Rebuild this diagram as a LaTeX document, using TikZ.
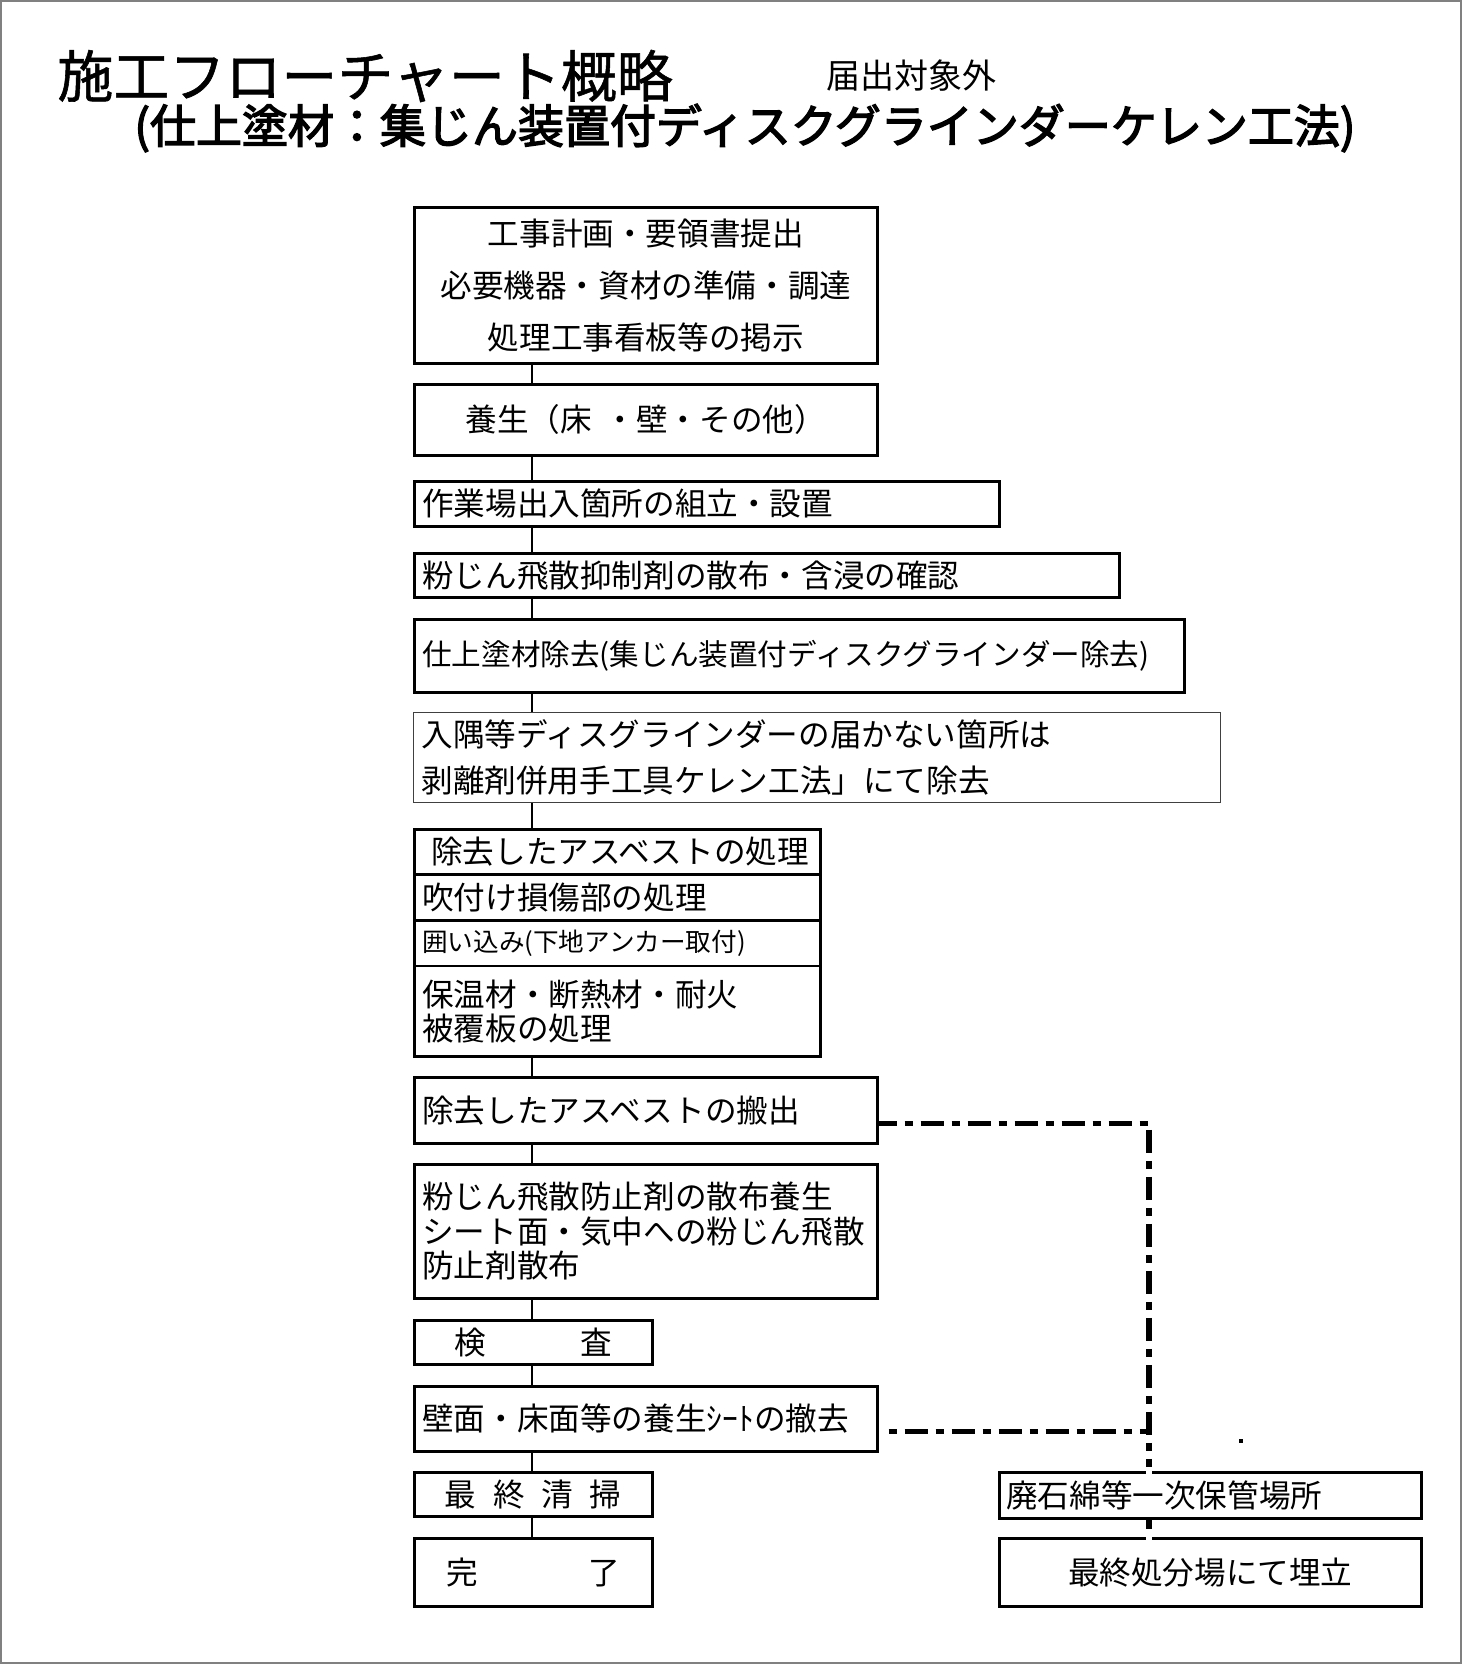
\documentclass[tikz,border=0pt]{standalone}
\usepackage{fontspec}
\setmainfont{Noto Sans CJK JP}
\newfontfamily\titlefont{Noto Sans CJK JP}[FakeBold=1]
\newfontfamily\subfont{Noto Sans CJK JP}[FakeBold=3]
\usetikzlibrary{calc}
\newcommand\fsmain{\fontsize{15.8pt}{19pt}\selectfont}
\begin{document}
\begin{tikzpicture}[x=0.5pt,y=-0.5pt,
  bx/.style={draw, line width=1.3pt, anchor=north west, inner xsep=4pt, inner ysep=0pt, align=left, font=\fsmain},
  conn/.style={line width=0.85pt},
  dd/.style={line width=2.8pt, dash pattern=on 11.5pt off 4pt on 4pt off 4pt}]
\useasboundingbox (0,0) rectangle (1462,1664);
\draw[gray, line width=1pt] (1,1) rectangle (1461,1663);
% titles
\node[anchor=west, inner sep=0pt, font={\titlefont\fontsize{28pt}{30pt}\selectfont}] (title) at (57,76) {施工フローチャート概略};
\node[anchor=west, inner sep=0pt, font={\fontsize{17pt}{19pt}\selectfont}] (notice) at (826,76) {届出対象外};
\node[anchor=west, inner sep=0pt, font={\subfont\fontsize{23pt}{25pt}\selectfont}] (sub) at (134,128) {(仕上塗材：集じん装置付ディスクグラインダーケレン工法)};
% main flow
\node[bx, text width=223.5pt, minimum height=78pt, align=center, font={\fontsize{15.8pt}{26pt}\selectfont}] (b1) at (413,206) {工事計画・要領書提出\\必要機器・資材の準備・調達\\処理工事看板等の掲示};
\node[bx, text width=223.5pt, minimum height=35.5pt, align=center] (b2) at (413,383) {養生（床\hspace{0.4em}・壁・その他）};
\node[bx, text width=284.5pt, minimum height=22.5pt] (b3) at (413,480) {作業場出入箇所の組立・設置};
\node[bx, text width=344.5pt, minimum height=22pt] (b4) at (413,552) {粉じん飛散抑制剤の散布・含浸の確認};
\node[bx, text width=377pt, minimum height=36.5pt, font={\fontsize{14.8pt}{18pt}\selectfont}] (b5) at (413,618) {仕上塗材除去(集じん装置付ディスクグラインダー除去)};
\node[bx, text width=395.5pt, minimum height=45pt, line width=0.5pt, draw=black!75, font={\fontsize{15.8pt}{22.8pt}\selectfont}] (b6) at (413,712) {入隅等ディスグラインダーの届かない箇所は\\剥離剤併用手工具ケレン工法」にて除去};
\node[bx, text width=195pt, minimum height=22.5pt] (r1) at (413,828) {\hspace*{4.5pt}除去したアスベストの処理};
\node[bx, text width=195pt, minimum height=23pt] (r2) at (413,873) {吹付け損傷部の処理};
\node[bx, text width=195pt, minimum height=22.75pt, font={\fontsize{12.8pt}{15pt}\selectfont}] (r3) at (413,919) {囲い込み(下地アンカー取付)};
\node[bx, text width=195pt, minimum height=45.25pt, font={\fontsize{15.8pt}{17pt}\selectfont}] (r4) at (413,964.5) {保温材・断熱材・耐火\\被覆板の処理};
\node[bx, text width=223.5pt, minimum height=33pt] (b8) at (413,1076) {除去したアスベストの搬出};
\node[bx, text width=223.5pt, minimum height=67pt, font={\fontsize{15.8pt}{17.25pt}\selectfont}] (b9) at (413,1163) {粉じん飛散防止剤の散布養生\\シート面・気中への粉じん飛散\\防止剤散布};
\node[bx, text width=111pt, minimum height=22pt, align=center] (b10) at (413,1319) {検　　　査};
\node[bx, text width=223.5pt, minimum height=32.5pt] (b11) at (413,1385) {壁面・床面等の養生ｼｰﾄの撤去};
\node[bx, text width=111pt, minimum height=22pt, align=center] (b12) at (413,1471) {最\hspace{0.53em}終\hspace{0.53em}清\hspace{0.53em}掃};
\node[bx, text width=111pt, minimum height=34pt, align=center] (b13) at (413,1537) {完\hspace{3.5em}了};
% connectors
\coordinate (sp) at (532,0);
\foreach \a/\b in {b1/b2,b2/b3,b3/b4,b4/b5,b5/b6,b6/r1,r4/b8,b8/b9,b9/b10,b10/b11,b11/b12,b12/b13}
  \draw[conn] (\a.south -| sp) -- (\b.north -| sp);
% dash-dot route to storage
\coordinate (vx) at (1149,0);
\coordinate (s1) at ([yshift=-6.5pt]b8.east);
\coordinate (s2) at ([xshift=5pt,yshift=-6.25pt]b11.east);
\draw[dd, dash phase=2.5pt] (s1) -- (s1 -| vx) -- (1149,1537);
\draw[dd, dash phase=15.5pt] (s2) -- (s2 -| vx);
% storage boxes
\node[bx, fill=white, text width=204pt, inner xsep=3.5pt, minimum height=23pt] (b14) at (998,1471) {廃石綿等一次保管場所};
\node[bx, fill=white, text width=204pt, inner xsep=3.5pt, minimum height=34pt, align=center] (b15) at (998,1537) {最終処分場にて埋立};
\fill[white] (b14.north -| vx) ++(-3,-4) rectangle ++(6,8);
\fill[white] (b15.north -| vx) ++(-3,-4) rectangle ++(6,8);
\fill (1239,1439) rectangle (1243,1443);
\end{tikzpicture}
\end{document}
